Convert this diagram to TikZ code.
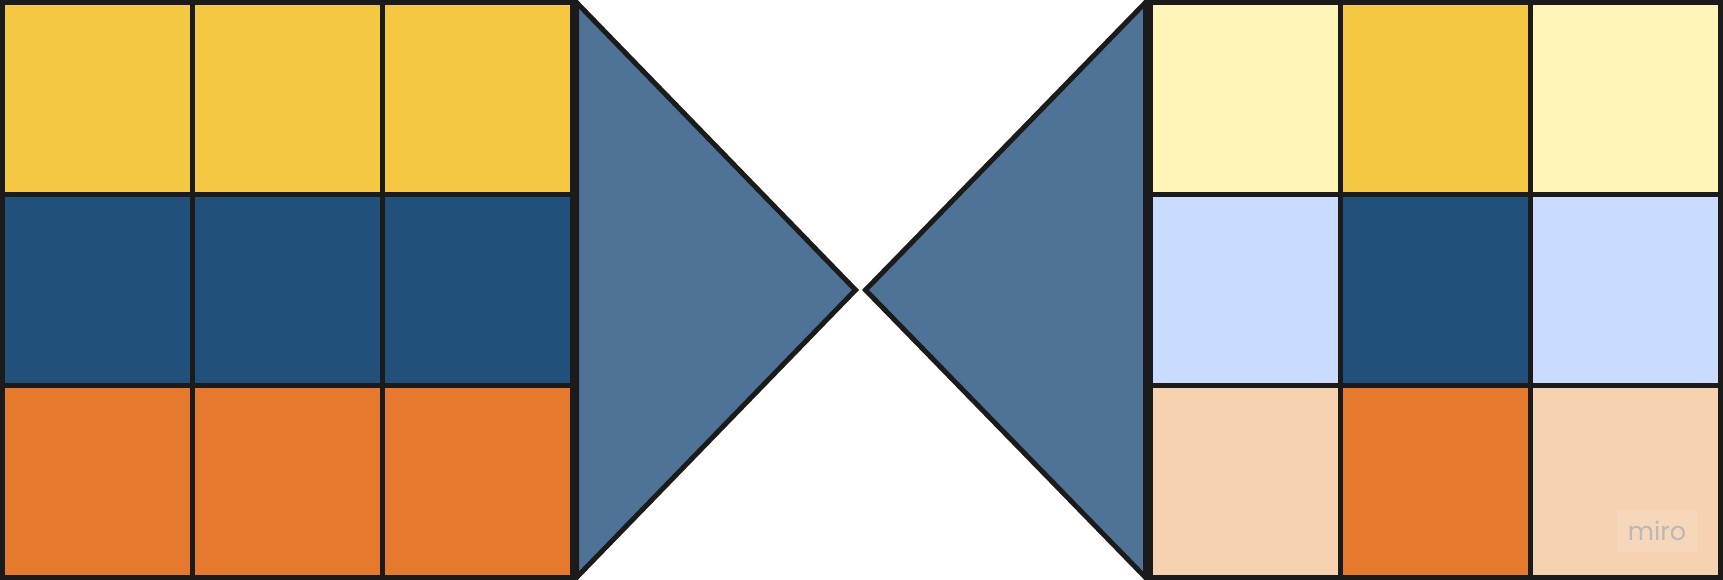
\documentclass[tikz,border=0pt]{standalone}
\usepackage{fontspec}
\newfontfamily\logofont{Poppins}
\definecolor{sunyellow}{HTML}{F5C843}
\definecolor{deepblue}{HTML}{21507A}
\definecolor{tangerine}{HTML}{E57A2E}
\definecolor{slateblue}{HTML}{4E7397}
\definecolor{paleyellow}{HTML}{FFF5B9}
\definecolor{paleblue}{HTML}{C9DCFE}
\definecolor{palepeach}{HTML}{F7D2B0}
\definecolor{inkline}{HTML}{1B1B1B}
\tikzset{
    cell/.style={ % one square of a grid
        draw=inkline,
        line width=2.85pt,
        inner sep=0pt,
        minimum width=3.8cm,
        minimum height=3.8333cm
    },
    wing/.style={ % the two triangles
        draw=inkline,
        fill=slateblue,
        line width=2.85pt,
        line join=miter
    },
}

\begin{document}
\begin{tikzpicture}[x=0.02cm, y=-0.02cm]
    \useasboundingbox (0,0) rectangle (1723,580);
    % left grid, one colour per row
    \foreach \row/\tint in {1/sunyellow, 2/deepblue, 3/tangerine} {
        \foreach \col in {1,2,3} {
            \node[cell, fill=\tint] (l\row\col) at ({2.5+190*(\col-0.5)}, {2.5+191.667*(\row-0.5)}) {};
        }
    }
    % right grid, pale cells at the sides
    \foreach \row/\pale/\tint in {1/paleyellow/sunyellow, 2/paleblue/deepblue, 3/palepeach/tangerine} {
        \foreach \col/\hue in {1/\pale, 2/\tint, 3/\pale} {
            \node[cell, fill=\hue] (r\row\col) at ({1150.5+190*(\col-0.5)}, {2.5+191.667*(\row-0.5)}) {};
        }
    }
    \coordinate (lapex) at (855.5,290);
    \coordinate (rapex) at (865.5,290);
    \draw[wing] (576.5,2.5) -- (lapex) -- (576.5,577.5) -- cycle;
    \draw[wing] (1145.5,2.5) -- (rapex) -- (1145.5,577.5) -- cycle;
    % watermark
    \node[fill=white, fill opacity=0.12, text opacity=1, minimum width=1.6cm, minimum height=0.84cm,
          text=gray!55, font=\logofont\fontsize{14.5}{14.5}\selectfont] (logo) at (1657,531) {miro};
\end{tikzpicture}
\end{document}
